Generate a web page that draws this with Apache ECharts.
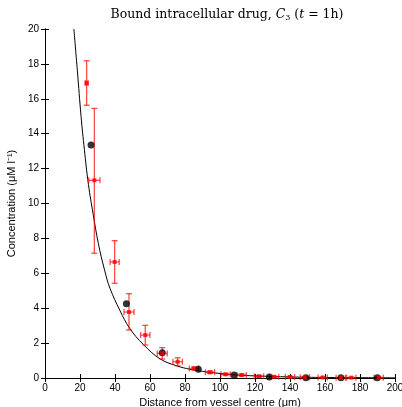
<!DOCTYPE html>
<html><head><meta charset="utf-8">
<script src="https://cdn.jsdelivr.net/npm/echarts@6/dist/echarts.min.js"></script>
<style>html,body{margin:0;padding:0;background:#fff}#c{width:402px;height:407px}</style>
</head><body><div id="c"></div>
<script>
// Experimental data (red): x, y, y-low, y-high, x half-error
const redX    = [23.8, 28.2, 39.8, 48.0, 57.3, 67.0, 75.8, 85.1, 94.3, 103.2, 112.4, 122.3, 130.9, 140.0, 148.5, 158.7, 169.0, 175.0, 190.7];
const redY    = [16.9, 11.33, 6.65, 3.78, 2.46, 1.41, 0.93, 0.55, 0.33, 0.21, 0.17, 0.10, 0.07, 0.06, 0.04, 0.03, 0.02, 0.02, 0.02];
const redYLow = [15.63, 7.15, 5.43, 2.75, 1.89, 1.09, 0.70, 0.47, 0.26, 0.15, 0.11, 0.05, 0.03, 0.02, 0.01, 0.00, 0.00, 0.00, 0.00];
const redYHigh= [18.18, 15.45, 7.87, 4.83, 3.02, 1.74, 1.16, 0.63, 0.40, 0.27, 0.23, 0.15, 0.11, 0.10, 0.07, 0.06, 0.05, 0.05, 0.05];
const redXErr = [0.8, 3.2, 2.6, 2.85, 2.65, 2.85, 2.7, 2.65, 2.65, 2.65, 2.65, 2.65, 2.65, 2.65, 2.65, 2.65, 2.65, 2.65, 2.65];
// Model sample points (black)
const blackX = [26.3, 46.5, 67.0, 87.6, 108.0, 128.2, 149.1, 169.1, 189.9];
const blackY = [13.35, 4.26, 1.45, 0.50, 0.17, 0.06, 0.02, 0.01, 0.01];
// Model curve
const curveX = [16.5, 18.5, 20.6, 22.5, 24.8, 27.5, 30.5, 34.0, 37.1, 42.9, 48.4, 56.2, 65.7, 75.2, 82.9, 90, 100, 110, 120, 140, 160, 180, 200];
const curveY = [20, 17.6, 15.0, 13.1, 11.1, 9.4, 7.7, 6.2, 5.15, 3.85, 2.85, 1.92, 1.1, 0.7, 0.5, 0.38, 0.26, 0.17, 0.12, 0.06, 0.03, 0.02, 0.01];
const xTicks = {min: 0, max: 200, interval: 20};
const yTicks = {min: 0, max: 20, interval: 2};

const chart = echarts.init(document.getElementById('c'));
const lab = {color: '#000', fontFamily: 'Liberation Sans', fontSize: 10};
const axLine = {show: true, lineStyle: {color: '#000', width: 1}};
const tick = {show: true, inside: true, length: 4, lineStyle: {color: '#000'}};
const errData = redX.map((x, i) => [x, redY[i], redYLow[i], redYHigh[i], redXErr[i]]);
chart.setOption({
  animation: false,
  title: {
    text: '{n|Bound intracellular drug, }{i|C}{s|3}{n| (}{i|t}{n| = 1h)}',
    left: 222, top: 3, textAlign: 'center',
    textStyle: {fontWeight: 'normal', rich: {
      n: {fontFamily: 'DejaVu Serif', fontWeight: 'normal', fontSize: 12.5, color: '#000'},
      i: {fontFamily: 'DejaVu Serif', fontWeight: 'normal', fontStyle: 'italic', fontSize: 12.5, color: '#000'},
      s: {fontFamily: 'DejaVu Serif', fontWeight: 'normal', fontSize: 8, color: '#000', padding: [6, 0, 0, 0]}
    }}
  },
  grid: {left: 45, right: 7, top: 29, bottom: 29, containLabel: false, outerBoundsMode: 'none'},
  xAxis: [{
    type: 'value', min: xTicks.min, max: xTicks.max, interval: xTicks.interval,
    axisLine: axLine, axisTick: tick, splitLine: {show: false},
    axisLabel: Object.assign({margin: 5}, lab),
    name: 'Distance from vessel centre (μm)', nameLocation: 'middle', nameGap: 13,
    nameTextStyle: {color: '#000', fontFamily: 'Liberation Sans', fontSize: 11}
  }, {
    type: 'value', position: 'top', min: xTicks.min, max: xTicks.max, interval: xTicks.interval,
    axisLine: axLine, axisTick: tick, axisLabel: {show: false}, splitLine: {show: false}
  }],
  yAxis: [{
    type: 'value', min: yTicks.min, max: yTicks.max, interval: yTicks.interval,
    axisLine: axLine, axisTick: tick, splitLine: {show: false},
    axisLabel: Object.assign({margin: 6}, lab),
    name: 'Concentration (μM l⁻¹)', nameLocation: 'middle', nameGap: 20,
    nameTextStyle: {color: '#000', fontFamily: 'Liberation Sans', fontSize: 11}
  }, {
    type: 'value', position: 'right', min: yTicks.min, max: yTicks.max, interval: yTicks.interval,
    axisLine: axLine, axisTick: tick, axisLabel: {show: false}, splitLine: {show: false}
  }],
  series: [{
    type: 'line', data: curveX.map((x, i) => [x, curveY[i]]), showSymbol: false,
    smooth: 0.4,
    lineStyle: {color: '#000', width: 1}, z: 2
  }, {
    type: 'custom', data: errData, z: 3,
    renderItem: function (params, api) {
      const x = api.value(0), y = api.value(1), lo = api.value(2), hi = api.value(3), xe = api.value(4);
      const pLo = api.coord([x, lo]), pHi = api.coord([x, hi]);
      const pL = api.coord([x - xe, y]), pR = api.coord([x + xe, y]);
      const c = 3;
      const st = {stroke: 'rgba(255,0,0,0.7)', lineWidth: 1.3};
      const ln = (a, b, cc, d) => ({type: 'line', shape: {x1: a, y1: b, x2: cc, y2: d}, style: st});
      return {type: 'group', children: [
        ln(pLo[0], pLo[1], pHi[0], pHi[1]),
        ln(pLo[0] - c, pLo[1], pLo[0] + c, pLo[1]),
        ln(pHi[0] - c, pHi[1], pHi[0] + c, pHi[1]),
        ln(pL[0], pL[1], pR[0], pR[1]),
        ln(pL[0], pL[1] - c, pL[0], pL[1] + c),
        ln(pR[0], pR[1] - c, pR[0], pR[1] + c)
      ]};
    }
  }, {
    type: 'scatter', data: blackX.map((x, i) => [x, blackY[i]]), symbol: 'circle', symbolSize: 7,
    itemStyle: {color: '#000'}, z: 4
  }, {
    type: 'scatter', data: redX.map((x, i) => [x, redY[i]]), symbol: 'rect', symbolSize: 4,
    itemStyle: {color: '#ff0000'}, z: 5
  }]
});
</script></body></html>
